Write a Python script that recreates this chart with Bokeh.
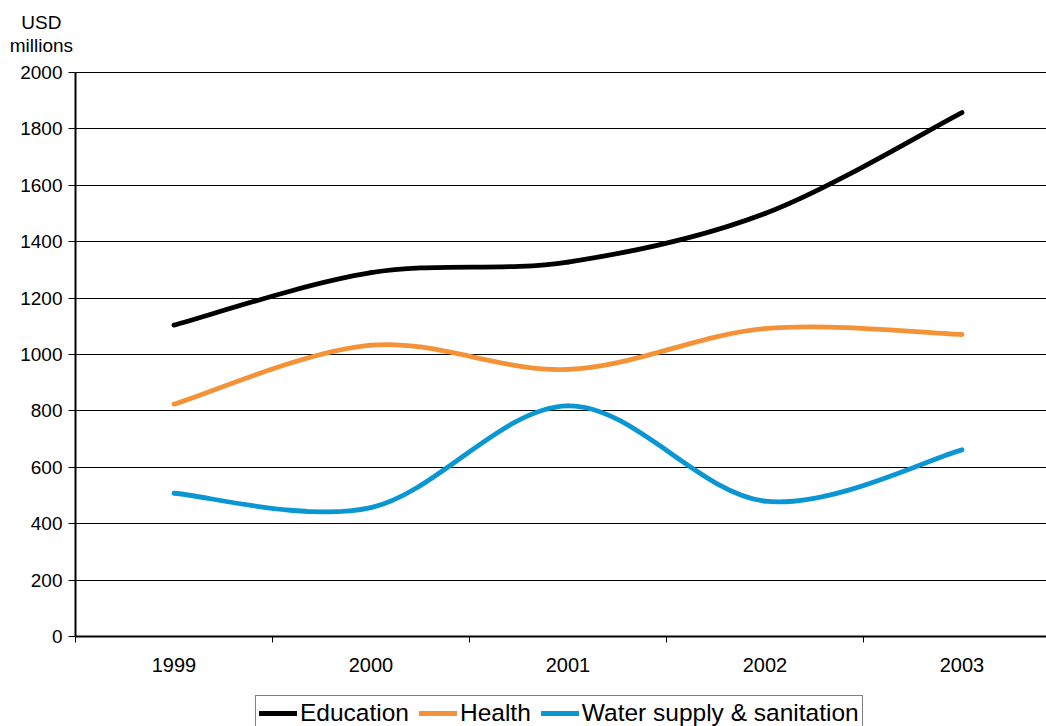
from bokeh.plotting import figure
from bokeh.models import FixedTicker, Label, Legend, LegendItem, Range1d
from bokeh.embed import file_html
from bokeh.resources import INLINE

# ---- data ----
categories = ["1999", "2000", "2001", "2002", "2003"]
education = [1104, 1290, 1328, 1500, 1858]
health = [824, 1033, 947, 1092, 1071]
water = [508, 457, 818, 480, 662]
y_ticks = [0, 200, 400, 600, 800, 1000, 1200, 1400, 1600, 1800, 2000]

FONT = "Liberation Sans"

# The frame covers the whole canvas; axes are drawn at fixed data locations.
p = figure(width=1046, height=726, output_backend="svg", toolbar_location=None,
           x_range=Range1d(-0.8807, 4.429), y_range=Range1d(-319.1, 2255.3),
           min_border_left=0, min_border_right=0, min_border_top=0,
           min_border_bottom=0)
p.outline_line_color = None
p.background_fill_color = "white"
p.border_fill_color = "white"

# grid
p.xgrid.visible = False
p.ygrid.grid_line_color = "black"
p.ygrid.grid_line_width = 1
p.ygrid.ticker = FixedTicker(ticks=y_ticks[1:])
p.ygrid.cross_bounds = (-0.5, 10)

# y axis
p.yaxis.fixed_location = -0.5
p.yaxis.bounds = (0, 2000)
p.yaxis.ticker = FixedTicker(ticks=y_ticks)
p.yaxis.axis_line_color = "black"
p.yaxis.axis_line_width = 2
p.yaxis.major_tick_line_color = "black"
p.yaxis.major_tick_out = 7
p.yaxis.major_tick_in = 0
p.yaxis.minor_tick_line_color = None
p.yaxis.major_label_text_font = FONT
p.yaxis.major_label_text_font_size = "19px"
p.yaxis.major_label_text_color = "black"
p.yaxis.major_label_standoff = 6

# x axis (category labels at centres, ticks at boundaries)
xs = list(range(len(categories)))
p.xaxis.fixed_location = 0
p.xaxis.bounds = (-0.5, 10)
p.xaxis.ticker = FixedTicker(ticks=xs, minor_ticks=[i - 0.5 for i in xs] + [len(xs) - 0.5])
p.xaxis.major_label_overrides = {i: c for i, c in zip(xs, categories)}
p.xaxis.axis_line_color = "black"
p.xaxis.axis_line_width = 2
p.xaxis.major_tick_out = 0
p.xaxis.major_tick_in = 0
p.xaxis.minor_tick_out = 6
p.xaxis.minor_tick_in = 0
p.xaxis.minor_tick_line_color = "black"
p.xaxis.major_label_text_font = FONT
p.xaxis.major_label_text_font_size = "20px"
p.xaxis.major_label_text_color = "black"
p.xaxis.major_label_standoff = 15


def smooth_segments(ys):
    n = len(ys)
    d = dict(x0=[], y0=[], x1=[], y1=[], cx0=[], cy0=[], cx1=[], cy1=[])
    for i in range(n - 1):
        a = max(i - 1, 0)
        b = min(i + 2, n - 1)
        d["x0"].append(xs[i]); d["y0"].append(ys[i])
        d["x1"].append(xs[i + 1]); d["y1"].append(ys[i + 1])
        d["cx0"].append(xs[i] + (xs[i + 1] - xs[a]) / 6)
        d["cy0"].append(ys[i] + (ys[i + 1] - ys[a]) / 6)
        d["cx1"].append(xs[i + 1] - (xs[b] - xs[i]) / 6)
        d["cy1"].append(ys[i + 1] - (ys[b] - ys[i]) / 6)
    return d


series = [("Education", education, "#000000"),
          ("Health", health, "#F39237"),
          ("Water supply & sanitation", water, "#0A96D2")]

items = []
for name, ys, color in series:
    r = p.bezier(source=smooth_segments(ys), x0="x0", y0="y0", x1="x1", y1="y1",
                 cx0="cx0", cy0="cy0", cx1="cx1", cy1="cy1",
                 line_color=color, line_width=4.8, line_cap="round")
    items.append(LegendItem(label=name, renderers=[r]))

legend = Legend(items=items, orientation="horizontal", location=(255, -5),
                label_text_font=FONT, label_text_font_size="24.5px",
                label_text_color="black", label_height=24,
                glyph_width=38, glyph_height=24, label_standoff=3, spacing=10,
                padding=3, margin=0, border_line_color="black",
                border_line_width=1, background_fill_color="white",
                background_fill_alpha=1)
p.add_layout(legend, "center")

# unit label
p.add_layout(Label(x=-0.673, y=2177, text="USD", text_align="center",
                   text_baseline="middle", text_font=FONT,
                   text_font_size="19px", text_color="black"))
p.add_layout(Label(x=-0.673, y=2096, text="millions", text_align="center",
                   text_baseline="middle", text_font=FONT,
                   text_font_size="19px", text_color="black"))

open("out.html", "w").write(file_html(p, INLINE))
